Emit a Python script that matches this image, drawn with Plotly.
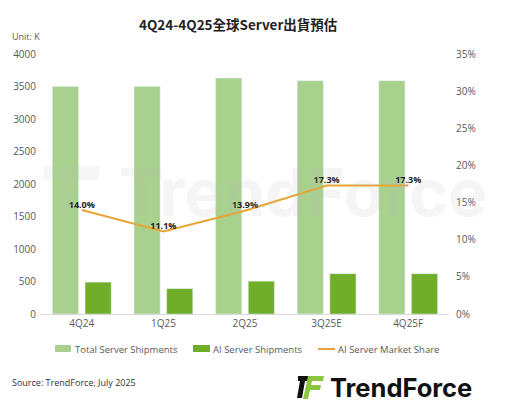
import plotly.graph_objects as go

quarters = ["4Q24", "1Q25", "2Q25", "3Q25E", "4Q25F"]
total_shipments = [3500, 3500, 3630, 3590, 3590]
ai_shipments = [490, 390, 505, 620, 620]
ai_share = [0.140, 0.111, 0.139, 0.173, 0.173]
share_labels = ["14.0%", "11.1%", "13.9%", "17.3%", "17.3%"]

W, H = 507, 406
L, R, T, B = 41, 449, 54, 314

LIGHT = "#A9D18E"
DARK = "#70AD28"
ORANGE = "#E8A534"


def px(x):
    return (x - L) / (R - L)


def py(y):
    return (B - y) / (B - T)


fig = go.Figure()
fig.add_trace(go.Bar(x=quarters, y=total_shipments, name="Total Server Shipments",
                     marker_color=LIGHT))
fig.add_trace(go.Bar(x=quarters, y=ai_shipments, name="AI Server Shipments",
                     marker_color=DARK))
fig.add_trace(go.Scatter(x=quarters, y=ai_share, name="AI Server Market Share",
                         yaxis="y2", mode="lines+text", text=share_labels,
                         textposition="top center",
                         textfont=dict(size=9, color="#222", family="Open Sans", weight=700),
                         line=dict(color=ORANGE, width=2)))

tick_font = dict(size=10, color="#595959", family="Open Sans")
fig.update_layout(
    width=W, height=H,
    margin=dict(l=L, r=W - R, t=T, b=H - B),
    paper_bgcolor="white", plot_bgcolor="white",
    barmode="group", bargap=0.2, bargroupgap=0.2,
    font=dict(family="Open Sans", color="#595959"),
    xaxis=dict(tickfont=tick_font, showline=True, linecolor="#D9D9D9", linewidth=1,
               showgrid=False, ticks=""),
    yaxis=dict(range=[0, 4000], dtick=500, tickfont=tick_font, showgrid=False,
               zeroline=False, ticklabelstandoff=4),
    yaxis2=dict(range=[0, 0.35], dtick=0.05, tickformat=".0%", overlaying="y",
                side="right", tickfont=tick_font, showgrid=False, zeroline=False,
                ticklabelstandoff=6),
    showlegend=False,
)

legend_font = dict(size=9.5, color="#595959", family="Open Sans")
annotations = [
    dict(text="<b>TrendForce</b>", x=px(303), y=py(192),
         font=dict(size=66, color="rgba(185,185,185,0.14)", family="Inter")),
    dict(text="<b>4Q24-4Q25全球Server出貨預估</b>", x=px(238), y=py(24),
         font=dict(size=13.5, color="#222", family="Noto Sans CJK TC")),
    dict(text="Unit: K", x=px(10), y=py(36), xanchor="left",
         font=dict(size=9, color="#595959")),
    dict(text="Total Server Shipments", x=px(73), y=py(349), xanchor="left", font=legend_font),
    dict(text="AI Server Shipments", x=px(211), y=py(349), xanchor="left", font=legend_font),
    dict(text="AI Server Market Share", x=px(336), y=py(349), xanchor="left", font=legend_font),
    dict(text="Source: TrendForce, July 2025", x=px(10), y=py(382), xanchor="left",
         font=dict(size=9, color="#333")),
    dict(text="<b>TrendForce</b>", x=px(328), y=py(388), xanchor="left",
         font=dict(size=25.5, color="#111", family="Inter")),
]
for a in annotations:
    a.update(xref="paper", yref="paper", showarrow=False, yanchor="middle")
fig.update_layout(annotations=annotations)


def path(points):
    return "M " + " L ".join(f"{px(x)},{py(y)}" for x, y in points) + " Z"


shapes = [
    # legend keys
    dict(type="rect", x0=px(55), x1=px(71), y0=py(345), y1=py(352),
         fillcolor=LIGHT, line_width=0),
    dict(type="rect", x0=px(193), x1=px(210), y0=py(345), y1=py(352),
         fillcolor=DARK, line_width=0),
    dict(type="line", x0=px(318), x1=px(335), y0=py(349), y1=py(349),
         line=dict(color=ORANGE, width=2)),
    # logo icon
    dict(type="path", path=path([(298, 376), (316, 376), (315, 381), (305, 381),
                                 (302, 398), (297, 398), (300, 381), (298, 381)]),
         fillcolor="#111", line_width=0),
    dict(type="path", path=path([(308, 376), (324, 376), (323, 381), (312, 381),
                                 (311, 385), (321, 385), (320, 390), (310, 390),
                                 (308, 399), (303, 399), (305, 390)]),
         fillcolor="#8CC63F", line_width=0),
    # watermark icon
    dict(type="path", path=path([(45, 166), (100, 166), (98, 180), (76, 180),
                                 (70, 216), (56, 216), (62, 180), (43, 180)]),
         fillcolor="rgba(185,185,185,0.13)", line_width=0),
]
for s in shapes:
    s.update(xref="paper", yref="paper")
fig.update_layout(shapes=shapes)

fig.write_html("out.html", config={"displayModeBar": False},
               post_script="document.body.style.margin='0';")
